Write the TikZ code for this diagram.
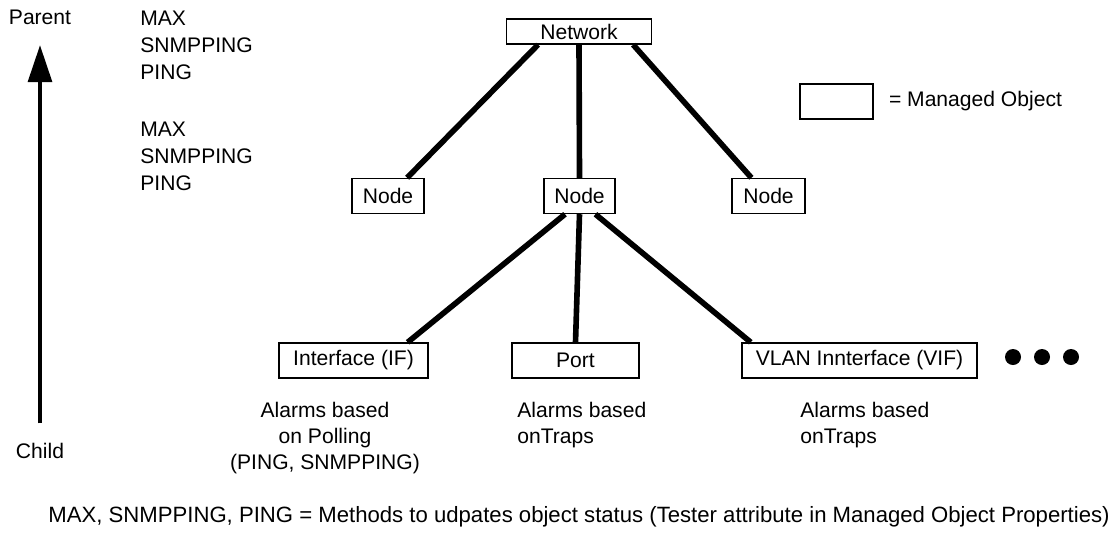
\documentclass[tikz,border=0pt]{standalone}
\usepackage{fontspec}
\setmainfont{Liberation Sans}
\usetikzlibrary{arrows.meta,positioning,calc}

\begin{document}
\begin{tikzpicture}[x=0.02cm,y=-0.02cm, every node/.style={font=\fontsize{12}{15.4}\selectfont,inner sep=0pt},
    mo/.style={draw,line width=0.8pt,minimum height=0.7cm},
    link/.style={line width=3.2pt}]
    \useasboundingbox (0,0) rectangle (1111,538);
    % hierarchy axis
    \node (parent) at (40,17) {Parent};
    \node (child) at (40,451) {Child};
    \draw[line width=1.8pt,-{Triangle[length=0.74cm,width=0.48cm]},shorten <=0.39cm,shorten >=0.41cm] (child.north) -- (parent.south);
    \node[anchor=north west,align=left,font=\fontsize{12}{15.4}\selectfont] (mtop) at (140,10.5) {MAX\\SNMPPING\\PING};
    \node[anchor=north west,align=left,font=\fontsize{12}{15.4}\selectfont] (mmid) at (140,121.5) {MAX\\SNMPPING\\PING};
    % managed objects
    \node[mo,minimum width=2.9cm,minimum height=0.5cm] (net) at (579,31.5) {Network};
    \node[mo,minimum width=1.44cm] (nodeL) at (388,196) {Node};
    \node[mo,minimum width=1.42cm] (nodeM) at (579.5,196) {Node};
    \node[mo,minimum width=1.46cm] (nodeR) at (768.5,196) {Node};
    \node[mo,minimum width=2.98cm] (intf) at (353.5,360.5) {Interface (IF)};
    \node[mo,minimum width=2.54cm] (port) at (575.5,360.5) {Port};
    \node[mo,minimum width=4.7cm] (vif) at (859.5,360.5) {VLAN Innterface (VIF)};
    \foreach \x in {1013,1042,1071}{\fill (\x,357) circle (8);}
    \foreach \a/\p/\b/\q in {net/0.22/nodeL/0.76,net/0.5/nodeM/0.5,net/0.87/nodeR/0.27,nodeM/0.3/intf/0.86,nodeM/0.5/port/0.5,nodeM/0.72/vif/0.04}{\draw[link] ($(\a.south west)!\p!(\a.south east)$)--($(\b.north west)!\q!(\b.north east)$);}
    % legend
    \node[mo,minimum width=1.46cm] (mokey) at (836.5,101.5) {};
    \node[right=0.3cm of mokey] (mokeytxt) {= Managed Object};
    % alarm notes
    \node[anchor=north,align=center,font=\fontsize{12}{14.7}\selectfont] (almif) at (325,402) {Alarms based\\on Polling\\(PING, SNMPPING)};
    \node[anchor=north west,align=left,font=\fontsize{12}{14.7}\selectfont] (almport) at (517,402) {Alarms based\\onTraps};
    \node[anchor=north west,align=left,font=\fontsize{12}{14.7}\selectfont] (almvif) at (800,402) {Alarms based\\onTraps};
    \node[font=\fontsize{12.6}{15}\selectfont] (note) at (579,517) {MAX, SNMPPING, PING = Methods to udpates object status (Tester attribute in Managed Object Properties)};
  \end{tikzpicture}
\end{document}
